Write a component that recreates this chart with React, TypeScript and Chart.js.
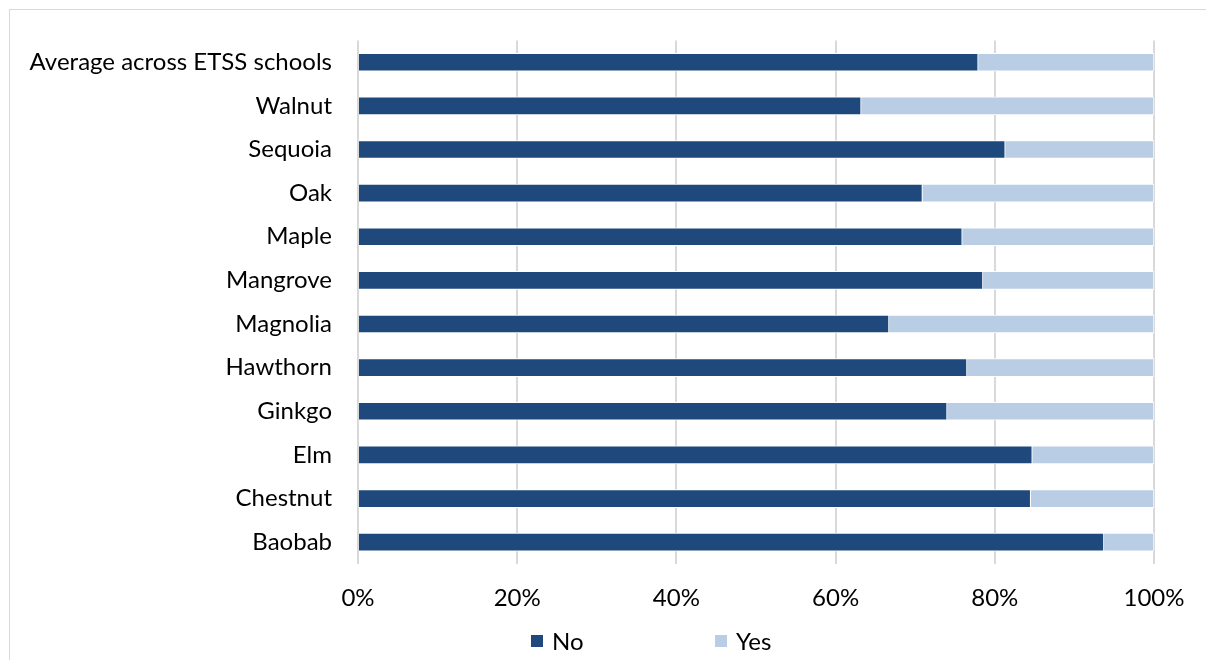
import React, { useEffect, useRef } from "react";
import { Chart, registerables } from "chart.js";

Chart.register(...registerables);

const categories = [
  "Average across ETSS schools",
  "Walnut",
  "Sequoia",
  "Oak",
  "Maple",
  "Mangrove",
  "Magnolia",
  "Hawthorn",
  "Ginkgo",
  "Elm",
  "Chestnut",
  "Baobab",
];
const noValues = [77.9, 63.2, 81.3, 70.9, 75.9, 78.5, 66.7, 76.5, 74.0, 84.7, 84.5, 93.7];
const yesValues = noValues.map((v) => Math.round((100 - v) * 10) / 10);
const seriesNames = ["No", "Yes"];
const seriesColors = ["#1F497D", "#B9CDE5"];
const xTicks = [0, 20, 40, 60, 80, 100];

const FONT = "Lato, 'Open Sans', sans-serif";
const FONT_SIZE = 24;

const legendPlugin = {
  id: "customLegend",
  afterDraw(chart: any) {
    const ctx = chart.ctx;
    const y = 641;
    const starts = [531, 715];
    ctx.save();
    ctx.font = `${FONT_SIZE}px ${FONT}`;
    ctx.textBaseline = "middle";
    ctx.textAlign = "left";
    chart.data.datasets.forEach((ds: any, i: number) => {
      const x = starts[i];
      ctx.fillStyle = ds.backgroundColor;
      ctx.fillRect(x, y - 6, 12, 12);
      ctx.fillStyle = "#000";
      ctx.fillText(ds.label, x + 21, y + 1);
    });
    ctx.restore();
  },
};

export default function App() {
  const ref = useRef<HTMLCanvasElement>(null);
  useEffect(() => {
    if (!ref.current) return;
    const chart = new Chart(ref.current, {
      type: "bar",
      data: {
        labels: categories,
        datasets: [
          {
            label: seriesNames[0],
            data: noValues,
            backgroundColor: seriesColors[0],
            borderColor: "#FFFFFF",
            borderWidth: 1,
            barThickness: 18,
          },
          {
            label: seriesNames[1],
            data: yesValues,
            backgroundColor: seriesColors[1],
            borderColor: "#FFFFFF",
            borderWidth: 1,
            barThickness: 18,
          },
        ],
      },
      options: {
        indexAxis: "y",
        animation: false,
        responsive: false,
        maintainAspectRatio: false,
        layout: { padding: { top: 38, right: 52, left: 0, bottom: 0 } },
        plugins: {
          legend: { display: false },
          tooltip: { enabled: false },
        },
        scales: {
          x: {
            stacked: true,
            min: 0,
            max: 100,
            afterBuildTicks: (scale: any) => {
              scale.ticks = xTicks.map((v) => ({ value: v }));
            },
            afterFit: (scale: any) => {
              scale.height = 96;
            },
            ticks: {
              callback: (v: any) => `${v}%`,
              color: "#000",
              font: { family: FONT, size: FONT_SIZE },
              padding: 20,
              maxRotation: 0,
            },
            grid: { color: "#D9D9D9", lineWidth: 2, drawTicks: false },
            border: { display: false },
          },
          y: {
            stacked: true,
            afterFit: (scale: any) => {
              scale.width = 358;
            },
            ticks: {
              color: "#000",
              font: { family: FONT, size: FONT_SIZE },
              padding: 26,
            },
            grid: { display: false, drawTicks: false },
            border: { display: false },
          },
        },
      },
      plugins: [legendPlugin],
    });
    return () => chart.destroy();
  }, []);

  return (
    <div>
      <div
        style={{
          position: "fixed",
          left: 9,
          top: 9,
          width: 1300,
          height: 800,
          border: "1px solid #D9D9D9",
          boxSizing: "border-box",
        }}
      />
      <canvas
        ref={ref}
        width={1206}
        height={660}
        style={{ position: "fixed", left: 0, top: 0, width: 1206, height: 660 }}
      />
    </div>
  );
}
